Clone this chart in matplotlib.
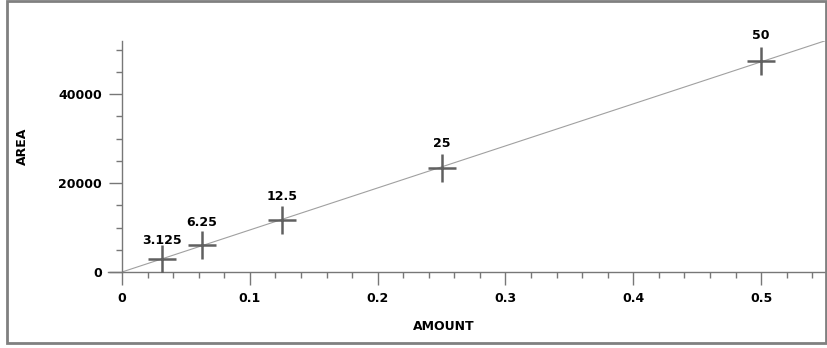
import numpy as np
import matplotlib
matplotlib.use("Agg")
import matplotlib.pyplot as plt
import matplotlib.patches as patches
from matplotlib.ticker import MultipleLocator

# calibration points (amount, peak area) and their concentration labels
amounts = [0.03125, 0.0625, 0.125, 0.25, 0.5]
areas = [2900, 6000, 11700, 23300, 47400]
point_labels = ["3.125", "6.25", "12.5", "25", "50"]

x_ticks = [0, 0.1, 0.2, 0.3, 0.4, 0.5]
x_tick_labels = ["0", "0.1", "0.2", "0.3", "0.4", "0.5"]
y_ticks = [0, 20000, 40000]
y_tick_labels = ["0", "20000", "40000"]

x_max = 0.55
y_max = 52000

# linear fit through the origin
xa = np.array(amounts)
ya = np.array(areas)
slope = np.sum(xa * ya) / np.sum(xa * xa)
fit_x = np.array([0, x_max])
fit_y = slope * fit_x

fig = plt.figure(figsize=(8.28, 3.48), dpi=100)
fig.patch.set_facecolor("white")
ax = fig.add_axes([122 / 828, 76 / 348, 703 / 828, 231.4 / 348])

ax.plot(fit_x, fit_y, color="#a0a0a0", lw=0.8, zorder=2)
ax.plot(amounts, areas, ls="none", marker="+", ms=20, mew=1.8,
        color="#606060", zorder=3)

offsets = [9, 12, 12, 13, 14]
for x, y, lab, off in zip(amounts, areas, point_labels, offsets):
    ax.annotate(lab, (x, y), xytext=(0, off), textcoords="offset points",
                ha="center", va="bottom", fontsize=9, fontweight="bold")

ax.set_xlim(0, x_max)
ax.set_ylim(0, y_max)
ax.set_xticks(x_ticks)
ax.set_xticklabels(x_tick_labels)
ax.set_yticks(y_ticks)
ax.set_yticklabels(y_tick_labels)
ax.xaxis.set_minor_locator(MultipleLocator(0.02))
ax.yaxis.set_minor_locator(MultipleLocator(5000))

for s in ["top", "right"]:
    ax.spines[s].set_visible(False)
for s in ["left", "bottom"]:
    ax.spines[s].set_color("#777777")
    ax.spines[s].set_linewidth(1)
ax.spines["bottom"].set_bounds(-0.011, x_max)

ax.tick_params(which="major", length=9.5, width=1, color="#777777", pad=5,
               labelsize=9)
ax.tick_params(which="minor", length=4.5, width=1, color="#777777")
for t in ax.get_xticklabels() + ax.get_yticklabels():
    t.set_fontweight("bold")

ax.set_xlabel("AMOUNT", fontsize=9, fontweight="bold")
ax.set_ylabel("AREA", fontsize=9, fontweight="bold")
ax.xaxis.set_label_coords(0.458, -0.207)
ax.yaxis.set_label_coords(-0.132, 0.545)

# grey frame around the whole picture
fig.add_artist(patches.Rectangle((7 / 828, 5 / 348), 819 / 828, 342 / 348,
                                 transform=fig.transFigure, fill=False,
                                 edgecolor="#808080", lw=2))

fig.savefig("out.png", dpi=100)
